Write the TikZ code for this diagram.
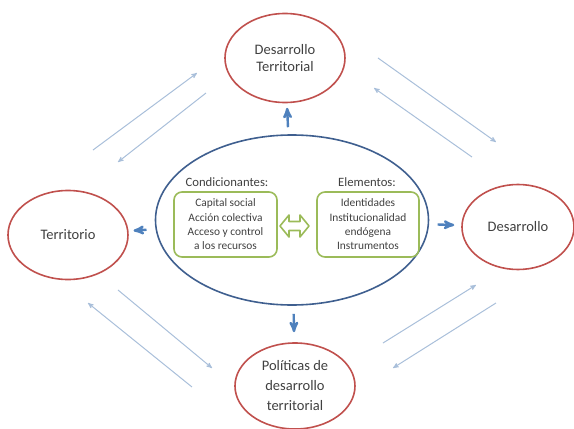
\documentclass[tikz,border=0pt]{standalone}
\usepackage{fontspec}
\setmainfont{Carlito}
\usepackage{tikz}
\usetikzlibrary{arrows,shapes.geometric}

\definecolor{redline}{HTML}{C0504D}
\definecolor{blueline}{HTML}{3F5F8F}
\definecolor{greenline}{HTML}{9BBB59}
\definecolor{arrowblue}{HTML}{4F81BD}
\definecolor{paleblue}{HTML}{A9BFDA}
\definecolor{textgray}{HTML}{404040}

\begin{document}
\begin{tikzpicture}[x=1pt,y=1pt,>=stealth',
  main node/.style={ellipse,draw=redline,line width=1.6pt,text=textgray,align=center,
    inner sep=0pt,font=\fontsize{14.5}{17}\selectfont},
  core node/.style={ellipse,draw=blueline,line width=1.6pt,minimum width=273pt,minimum height=170pt},
  list box/.style={draw=greenline,line width=1.6pt,rounded corners=8pt,minimum width=103pt,
    minimum height=65pt,align=center,text=textgray,inner sep=0pt,font=\fontsize{11.4}{14.3}\selectfont},
  head text/.style={text=textgray,font=\fontsize{12.7}{15}\selectfont},
  short arrow/.style={->,draw=arrowblue,line width=2.4pt},
  thin arrow/.style={->,draw=paleblue,line width=1pt}]

  \useasboundingbox (-292,-209) rectangle (282,220);

  % centre and the four ellipses round it
  \node[core node] (center) at (0,0) {};
  \node[main node,minimum width=120pt,minimum height=89pt] (top) [above of=center,node distance=162pt,xshift=-7pt] {Desarrollo\\Territorial};
  \node[main node,minimum width=120pt,minimum height=89pt] (left) [left of=center,node distance=224pt,yshift=-15pt] {Territorio};
  \node[main node,minimum width=112pt,minimum height=85pt] (right) [right of=center,node distance=226pt,yshift=-7pt] {Desarrollo};
  \node[main node,minimum width=120pt,minimum height=86pt,font=\fontsize{14.5}{20}\selectfont] (bottom) [below of=center,node distance=166pt,xshift=3pt] {Políticas de\\desarrollo\\territorial};

  % inside the centre
  \node[list box] (cond) at (-66.5,-4.5) {Capital social\\Acción colectiva\\Acceso y control\\a los recursos};
  \node[list box,minimum width=102pt] (elem) at (76,-4.5) {Identidades\\Institucionalidad\\endógena\\Instrumentos};
  \node[head text] (condhead) [above of=cond,node distance=42.5pt,xshift=1.5pt] {Condicionantes:};
  \node[head text] (elemhead) [above of=elem,node distance=42.5pt,xshift=-1pt] {Elementos:};
  \draw[greenline,line width=1.6pt,line join=round]
    (-12,-6) -- (-3,5) -- (-3,-1.5) -- (8,-1.5) -- (8,5) -- (17,-6)
    -- (8,-17) -- (8,-10.5) -- (-3,-10.5) -- (-3,-17) -- cycle;

  \path[short arrow]
    (center) edge[shorten <=7pt,shorten >=4.5pt] (top)
             edge[shorten <=9pt,shorten >=5pt] (left)
             edge[shorten <=8.5pt,shorten >=7pt] (right)
             edge[shorten <=8pt,shorten >=10pt] (bottom);

  % the paired arrows between the ellipses
  \coordinate (tl1) at (-199,70);  \coordinate (tl2) at (-95,147);
  \coordinate (tl3) at (-86,127);  \coordinate (tl4) at (-174,58);
  \coordinate (tr1) at (86,162);   \coordinate (tr2) at (204,78);
  \coordinate (tr3) at (180,63);   \coordinate (tr4) at (82,132);
  \coordinate (bl1) at (-174,-70); \coordinate (bl2) at (-80,-148);
  \coordinate (bl3) at (-100,-167); \coordinate (bl4) at (-204,-83);
  \coordinate (br1) at (91,-123);  \coordinate (br2) at (184,-65);
  \coordinate (br3) at (204,-83);  \coordinate (br4) at (101,-148);

  \foreach \a/\b in {tl1/tl2,tl3/tl4,tr1/tr2,tr3/tr4,bl1/bl2,bl3/bl4,br1/br2,br3/br4}
    \draw[thin arrow] (\a) -- (\b);
\end{tikzpicture}
\end{document}
